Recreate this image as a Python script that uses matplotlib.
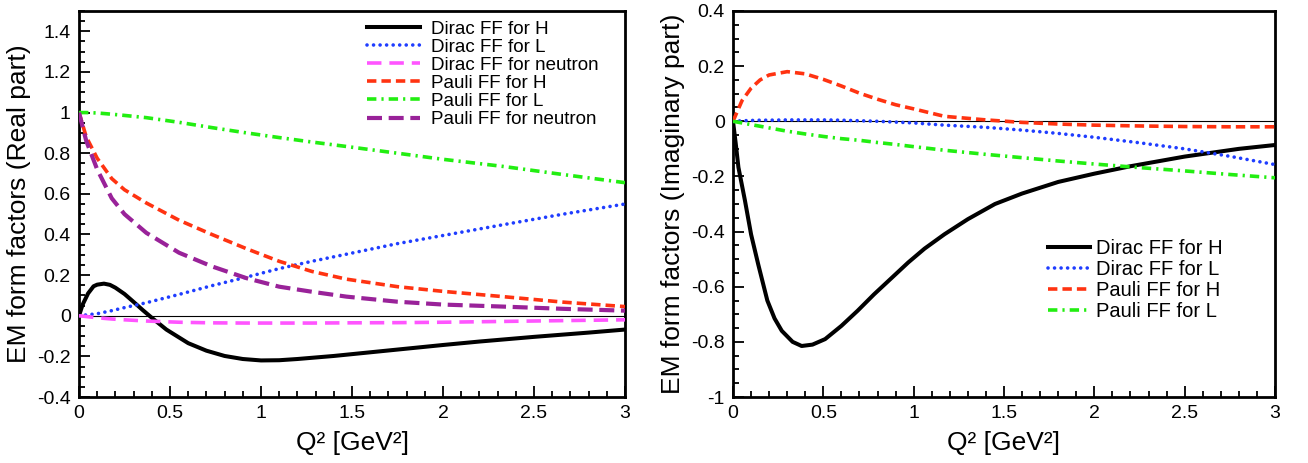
import matplotlib.pyplot as plt
from matplotlib.ticker import MultipleLocator, FuncFormatter

plt.rcParams['font.family'] = ['Liberation Sans', 'DejaVu Sans']

# ---- Real part (left panel) ----
q_dh = [0, 0.02, 0.05, 0.08, 0.1, 0.137, 0.17, 0.2, 0.25, 0.3, 0.35, 0.4, 0.48, 0.6, 0.7, 0.8, 0.9,
        1.0, 1.1, 1.2, 1.4, 1.6, 1.8, 2.0, 2.2, 2.5, 2.8, 3.0]
re_dirac_h = [0, 0.055, 0.11, 0.145, 0.153, 0.158, 0.152, 0.138, 0.107, 0.068, 0.028, -0.01, -0.068,
              -0.135, -0.172, -0.198, -0.213, -0.22, -0.219, -0.213, -0.198, -0.18, -0.162, -0.144,
              -0.127, -0.104, -0.083, -0.068]

q_re = [0, 0.04, 0.1, 0.18, 0.25, 0.37, 0.55, 0.73, 0.92, 1.1, 1.28, 1.47, 1.75, 2.0, 2.33, 2.66, 3.0]
re_dirac_l = [0, 0.004, 0.01, 0.025, 0.04, 0.064, 0.105, 0.148, 0.19, 0.232, 0.268, 0.303, 0.355,
              0.395, 0.448, 0.5, 0.55]
re_dirac_n = [0, -0.004, -0.01, -0.016, -0.02, -0.026, -0.032, -0.035, -0.036, -0.036, -0.036,
              -0.035, -0.034, -0.032, -0.028, -0.024, -0.02]
re_pauli_h = [1.0, 0.88, 0.775, 0.675, 0.62, 0.555, 0.47, 0.4, 0.33, 0.268, 0.218, 0.18, 0.143,
              0.12, 0.094, 0.067, 0.045]
re_pauli_n = [1.0, 0.86, 0.72, 0.578, 0.5, 0.408, 0.31, 0.243, 0.185, 0.143, 0.118, 0.094, 0.069,
              0.055, 0.045, 0.034, 0.025]
re_pauli_l = [1.0, 1.0, 0.998, 0.992, 0.986, 0.975, 0.952, 0.926, 0.9, 0.877, 0.855, 0.833, 0.8,
              0.77, 0.735, 0.695, 0.655]

# ---- Imaginary part (right panel) ----
q_ih = [0, 0.015, 0.03, 0.066, 0.1, 0.14, 0.19, 0.23, 0.27, 0.33, 0.38, 0.44, 0.51, 0.6, 0.69, 0.78,
        0.88, 0.97, 1.06, 1.17, 1.3, 1.45, 1.6, 1.8, 2.0, 2.2, 2.5, 2.8, 3.0]
im_dirac_h = [0, -0.08, -0.167, -0.287, -0.41, -0.52, -0.65, -0.715, -0.76, -0.8, -0.815, -0.81,
              -0.79, -0.742, -0.687, -0.628, -0.567, -0.512, -0.462, -0.41, -0.355, -0.3, -0.262,
              -0.22, -0.19, -0.163, -0.128, -0.1, -0.086]

q_im = [0, 0.05, 0.1, 0.15, 0.2, 0.3, 0.4, 0.5, 0.6, 0.7, 0.8, 0.9, 1.0, 1.17, 1.4, 1.6, 1.8, 2.0,
        2.25, 2.5, 2.75, 3.0]
im_dirac_l = [0, 0.002, 0.003, 0.004, 0.004, 0.005, 0.005, 0.005, 0.004, 0.002, 0.0, -0.003, -0.006,
              -0.014, -0.022, -0.032, -0.044, -0.058, -0.078, -0.1, -0.127, -0.157]
im_pauli_h = [0, 0.075, 0.12, 0.15, 0.168, 0.18, 0.172, 0.152, 0.128, 0.102, 0.08, 0.06, 0.045,
              0.018, 0.005, -0.004, -0.01, -0.014, -0.017, -0.019, -0.02, -0.02]
im_pauli_l = [0, -0.006, -0.012, -0.018, -0.024, -0.036, -0.046, -0.055, -0.063, -0.069, -0.077,
              -0.084, -0.092, -0.105, -0.12, -0.132, -0.144, -0.155, -0.168, -0.18, -0.193, -0.205]

# line styles: (color, linestyle, width)
STYLE = {
    'Dirac FF for H': ('black', '-', 2.9),
    'Dirac FF for L': ('#1f3dff', (0, (0.01, 1.8)), 2.6),
    'Dirac FF for neutron': ('#ff55ff', (0, (4, 2.2)), 2.6),
    'Pauli FF for H': ('#ff3311', (0, (2.6, 1.4)), 2.6),
    'Pauli FF for L': ('#22ee11', (0, (2.6, 1.4, 0.6, 1.4)), 2.6),
    'Pauli FF for neutron': ('#992299', (0, (3.6, 1.6)), 3.0),
}

fmt = FuncFormatter(lambda v, p: '%g' % round(v, 2))


def style_axes(ax, ymin, ymax):
    ax.set_xlim(0, 3)
    ax.set_ylim(ymin, ymax)
    ax.axhline(0, color='black', lw=0.8, zorder=1)
    ax.xaxis.set_major_locator(MultipleLocator(0.5))
    ax.xaxis.set_minor_locator(MultipleLocator(0.1))
    ax.yaxis.set_major_locator(MultipleLocator(0.2))
    ax.yaxis.set_minor_locator(MultipleLocator(0.05))
    ax.xaxis.set_major_formatter(fmt)
    ax.yaxis.set_major_formatter(fmt)
    ax.tick_params(which='both', direction='in', top=False, right=False, labelsize=14, width=1.3)
    ax.tick_params(which='major', length=8, pad=6)
    ax.tick_params(which='minor', length=4.5)
    for sp in ax.spines.values():
        sp.set_linewidth(2.0)
    ax.set_xlabel('Q² [GeV²]', fontsize=19, labelpad=6)


def draw(ax, q, y, name):
    c, ls, lw = STYLE[name]
    cap = 'round' if name == 'Dirac FF for L' else 'butt'
    ax.plot(q, y, color=c, ls=ls, lw=lw, label=name, zorder=3,
            dash_capstyle=cap, solid_joinstyle='round')


fig = plt.figure(figsize=(13.08, 4.63), dpi=100)
ax1 = fig.add_axes([79 / 1308, 66 / 463, 546 / 1308, 386 / 463])
ax2 = fig.add_axes([733 / 1308, 66 / 463, 542 / 1308, 386 / 463])

draw(ax1, q_dh, re_dirac_h, 'Dirac FF for H')
draw(ax1, q_re, re_dirac_l, 'Dirac FF for L')
draw(ax1, q_re, re_dirac_n, 'Dirac FF for neutron')
draw(ax1, q_re, re_pauli_h, 'Pauli FF for H')
draw(ax1, q_re, re_pauli_l, 'Pauli FF for L')
draw(ax1, q_re, re_pauli_n, 'Pauli FF for neutron')
style_axes(ax1, -0.4, 1.5)
ax1.set_ylabel('EM form factors (Real part)', fontsize=19, labelpad=4)
ax1.legend(loc='upper left', bbox_to_anchor=(0.528, 0.975), frameon=False, fontsize=13.5,
           handlelength=2.8, handletextpad=0.6, labelspacing=0.05, borderpad=0, borderaxespad=0)

draw(ax2, q_ih, im_dirac_h, 'Dirac FF for H')
draw(ax2, q_im, im_dirac_l, 'Dirac FF for L')
draw(ax2, q_im, im_pauli_h, 'Pauli FF for H')
draw(ax2, q_im, im_pauli_l, 'Pauli FF for L')
style_axes(ax2, -1.0, 0.4)
ax2.set_ylabel('EM form factors (Imaginary part)', fontsize=19, labelpad=4)
ax2.legend(loc='upper left', bbox_to_anchor=(0.581, 0.41), frameon=False, fontsize=14.5,
           handlelength=2.1, handletextpad=0.3, labelspacing=0.1, borderpad=0, borderaxespad=0)

fig.savefig('out.png', dpi=100)
